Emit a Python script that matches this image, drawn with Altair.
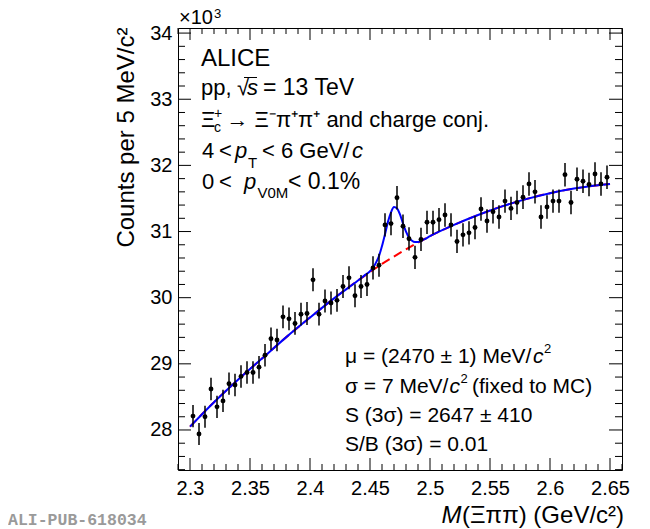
import altair as alt
import pandas as pd

F = "Liberation Sans"
W, H = 444, 442

# ---------------- data (counts in units of 10^3) ----------------
mass = [2.3025, 2.3075, 2.3125, 2.3175, 2.3225, 2.3275, 2.3325, 2.3375, 2.3425, 2.3475,
        2.3525, 2.3575, 2.3625, 2.3675, 2.3725, 2.3775, 2.3825, 2.3875, 2.3925, 2.3975,
        2.4025, 2.4075, 2.4125, 2.4175, 2.4225, 2.4275, 2.4325, 2.4375, 2.4425, 2.4475,
        2.4525, 2.4575, 2.4625, 2.4675, 2.4725, 2.4775, 2.4825, 2.4875, 2.4925, 2.4975,
        2.5025, 2.5075, 2.5125, 2.5175, 2.5225, 2.5275, 2.5325, 2.5375, 2.5425, 2.5475,
        2.5525, 2.5575, 2.5625, 2.5675, 2.5725, 2.5775, 2.5825, 2.5875, 2.5925, 2.5975,
        2.6025, 2.6075, 2.6125, 2.6175, 2.6225, 2.6275, 2.6325, 2.6375, 2.6425, 2.6475]
counts = [28.21, 27.94, 28.20, 28.62, 28.35, 28.44, 28.70, 28.68, 28.81, 28.87,
          28.87, 28.95, 29.13, 29.38, 29.36, 29.71, 29.68, 29.61, 29.75, 29.76,
          30.27, 29.75, 29.95, 29.92, 29.96, 30.17, 30.30, 30.03, 30.17, 30.20,
          30.45, 30.49, 31.10, 31.12, 31.51, 31.08, 30.89, 30.61, 30.88, 31.14,
          31.14, 31.18, 31.25, 31.10, 30.85, 30.95, 30.98, 31.06, 31.34, 31.16,
          31.30, 31.22, 31.46, 31.35, 31.44, 31.52, 31.72, 31.60, 31.22, 31.37,
          31.46, 31.46, 31.86, 31.44, 31.79, 31.76, 31.71, 31.87, 31.72, 31.82]
errors = [0.168, 0.167, 0.168, 0.169, 0.168, 0.169, 0.169, 0.169, 0.170, 0.170,
          0.170, 0.170, 0.171, 0.171, 0.171, 0.172, 0.172, 0.172, 0.172, 0.173,
          0.174, 0.172, 0.173, 0.173, 0.173, 0.174, 0.174, 0.173, 0.174, 0.174,
          0.175, 0.175, 0.176, 0.176, 0.178, 0.176, 0.176, 0.175, 0.176, 0.176,
          0.176, 0.177, 0.177, 0.176, 0.176, 0.176, 0.176, 0.176, 0.177, 0.177,
          0.177, 0.177, 0.177, 0.177, 0.177, 0.178, 0.178, 0.178, 0.177, 0.177,
          0.177, 0.177, 0.178, 0.177, 0.178, 0.178, 0.178, 0.179, 0.178, 0.178]

# background fit (red dashed)
bkg_mass = [2.30, 2.32, 2.34, 2.36, 2.38, 2.40, 2.42, 2.44, 2.46, 2.48,
            2.50, 2.52, 2.54, 2.56, 2.58, 2.60, 2.62, 2.64, 2.65]
bkg_val = [28.05, 28.42, 28.76, 29.08, 29.40, 29.70, 29.99, 30.26, 30.51, 30.73,
           30.93, 31.10, 31.25, 31.38, 31.49, 31.58, 31.65, 31.70, 31.72]

# total fit (blue)
tot_mass = [2.30, 2.32, 2.34, 2.36, 2.38, 2.40, 2.42, 2.44, 2.445, 2.45,
            2.4525, 2.455, 2.4575, 2.46, 2.4625, 2.465, 2.4675, 2.47, 2.4725, 2.475,
            2.4775, 2.48, 2.4825, 2.485, 2.4875, 2.49, 2.495, 2.50, 2.52, 2.54,
            2.56, 2.58, 2.60, 2.62, 2.64, 2.65]
tot_val = [28.05, 28.42, 28.76, 29.08, 29.40, 29.70, 29.99, 30.26, 30.33, 30.40,
           30.45, 30.53, 30.63, 30.78, 30.96, 31.15, 31.29, 31.37, 31.35, 31.26,
           31.12, 31.00, 30.91, 30.86, 30.84, 30.84, 30.88, 30.93, 31.10, 31.25,
           31.38, 31.49, 31.58, 31.65, 31.70, 31.72]

x_major = [2.30, 2.35, 2.40, 2.45, 2.50, 2.55, 2.60, 2.65]
x_minor = [round(2.29 + 0.01 * k, 2) for k in range(38)]
x_minor = [v for v in x_minor if all(abs(v - M) > 1e-6 for M in x_major)]
y_major = [28, 29, 30, 31, 32, 33, 34]
y_minor = [round(27.4 + 0.2 * k, 1) for k in range(34)]
y_minor = [v for v in y_minor if abs(v - round(v)) > 1e-6]

# ---------------- tables ----------------
pts = pd.DataFrame({"m": mass, "n": counts,
                    "lo": [c - e for c, e in zip(counts, errors)],
                    "hi": [c + e for c, e in zip(counts, errors)]})
bkg = pd.DataFrame({"m": bkg_mass, "n": bkg_val})
tot = pd.DataFrame({"m": tot_mass, "n": tot_val})

XS = alt.Scale(domain=[2.29, 2.66], nice=False, zero=False)
YS = alt.Scale(domain=[27.395, 34.077], nice=False, zero=False)

XA = alt.Axis(values=x_major, format="~g", ticks=False, tickSize=0, domain=False, grid=False,
              labelFont=F, labelFontSize=20, labelColor="black", labelPadding=24,
              labelBaseline="alphabetic", labelFlush=False, labelOverlap=False, title="")
YA = alt.Axis(values=y_major, format="d", ticks=False, tickSize=0, domain=False, grid=False,
              labelFont=F, labelFontSize=20, labelColor="black", labelPadding=6,
              labelFlush=False, labelOverlap=False,
              title="Counts per 5 MeV/c²", titleFont=F, titleFontSize=24, titleFontWeight="normal",
              titleColor="black", titleX=-45, titleY=-1, titleAngle=270, titleAlign="right",
              titleBaseline="alphabetic", titleAnchor="end")


def X(f):
    return alt.X(f, type="quantitative", scale=XS, axis=XA)


def Y(f):
    return alt.Y(f, type="quantitative", scale=YS, axis=YA)


red = alt.Chart(bkg).mark_line(color="#ff0000", strokeWidth=2, strokeDash=[9, 5],
                                interpolate="monotone").encode(x=X("m"), y=Y("n"))
blue = alt.Chart(tot).mark_line(color="#0000ff", strokeWidth=2,
                                 interpolate="monotone").encode(x=X("m"), y=Y("n"))
bars = alt.Chart(pts).mark_rule(color="black", strokeWidth=1.5).encode(
    x=X("m"), y=Y("lo"), y2="hi")
dots = alt.Chart(pts).mark_point(filled=True, shape="circle", size=24, color="black",
                                 opacity=1).encode(x=X("m"), y=Y("n"))


def xticks(vals, length):
    d = pd.DataFrame({"v": vals})
    b = alt.Chart(d).mark_rule(color="black", strokeWidth=1).encode(
        x=X("v"), y=alt.value(H), y2=alt.value(H - length))
    t = alt.Chart(d).mark_rule(color="black", strokeWidth=1).encode(
        x=X("v"), y=alt.value(0), y2=alt.value(length))
    return [b, t]


def yticks(vals, length):
    d = pd.DataFrame({"v": vals})
    l = alt.Chart(d).mark_rule(color="black", strokeWidth=1).encode(
        y=Y("v"), x=alt.value(0), x2=alt.value(length))
    r = alt.Chart(d).mark_rule(color="black", strokeWidth=1).encode(
        y=Y("v"), x=alt.value(W), x2=alt.value(W - length))
    return [l, r]


anchor = pd.DataFrame({"k": [0]})


def txt(s, x, y, size=22, style="normal", font=F, color="black", weight="normal", align="left"):
    return alt.Chart(anchor).mark_text(text=s, align=align, baseline="alphabetic", font=font,
                                       fontSize=size, fontStyle=style, fontWeight=weight,
                                       color=color).encode(x=alt.value(x), y=alt.value(y))


texts = [
    txt("×10", 1, -4, size=20),
    txt("3", 36, -10, size=13),
    txt("ALICE", 23, 38, size=24),
    txt("pp,", 23, 67),
    txt("√", 59, 67),
    txt("s", 69, 67, style="italic"),
    txt("= 13 TeV", 85, 67, size=23),
    txt("Ξ", 23, 98.7),
    txt("c", 36, 103.7, size=14),
    txt("+", 36, 89.5, size=14),
    txt("→ Ξ⁻π⁺π⁺ and charge conj.", 48.5, 98.7),
    txt("4", 24, 130.3),
    txt("<", 41, 130.3),
    txt("p", 57, 130.3, style="italic"),
    txt("T", 70, 140.3, size=15),
    txt("< 6 GeV/", 84, 130.3),
    txt("c", 174, 130.3, style="italic"),
    txt("0", 24, 161.3),
    txt("<", 41, 161.3),
    txt("p", 66, 161.3, style="italic"),
    txt("V0M", 79.5, 170, size=15),
    txt("< 0.1%", 110, 161.3, size=23),
    txt("μ = (2470 ± 1) MeV/", 167, 334.5, size=21),
    txt("c", 355, 334.5, size=21, style="italic"),
    txt("2", 366, 325, size=13),
    txt("σ = 7 MeV/", 167, 364.5, size=21),
    txt("c", 271.5, 364.5, size=21, style="italic"),
    txt("2", 282.5, 355, size=13),
    txt("(fixed to MC)", 294, 364.5, size=21),
    txt("S (3σ) = 2647 ± 410", 167, 394, size=21),
    txt("S/B (3σ) = 0.01", 167, 423, size=21),
    txt("M", 263.5, 494.7, size=24, style="italic"),
    txt("(Ξππ) (GeV/c²)", 284, 494.7, size=24),
    txt("ALI-PUB-618034", -170, 496.5, size=16.5, font="Liberation Mono", color="#9a9a9a",
        weight="bold"),
]

overline = alt.Chart(anchor).mark_rule(color="black", strokeWidth=1).encode(
    x=alt.value(66), x2=alt.value(79), y=alt.value(49.5))

layers = [red, blue, bars, dots] + xticks(x_major, 12) + xticks(x_minor, 6) \
    + yticks(y_major, 13) + yticks(y_minor, 7) + texts + [overline]

chart = alt.layer(*layers).properties(
    width=W, height=H,
    padding={"left": 170, "top": 20, "right": 20, "bottom": 59},
    autosize=alt.AutoSizeParams(type="none"),
    background="white",
).configure_view(stroke="black", strokeWidth=1)

chart.save("out.html", embed_options={"renderer": "svg", "actions": False})
